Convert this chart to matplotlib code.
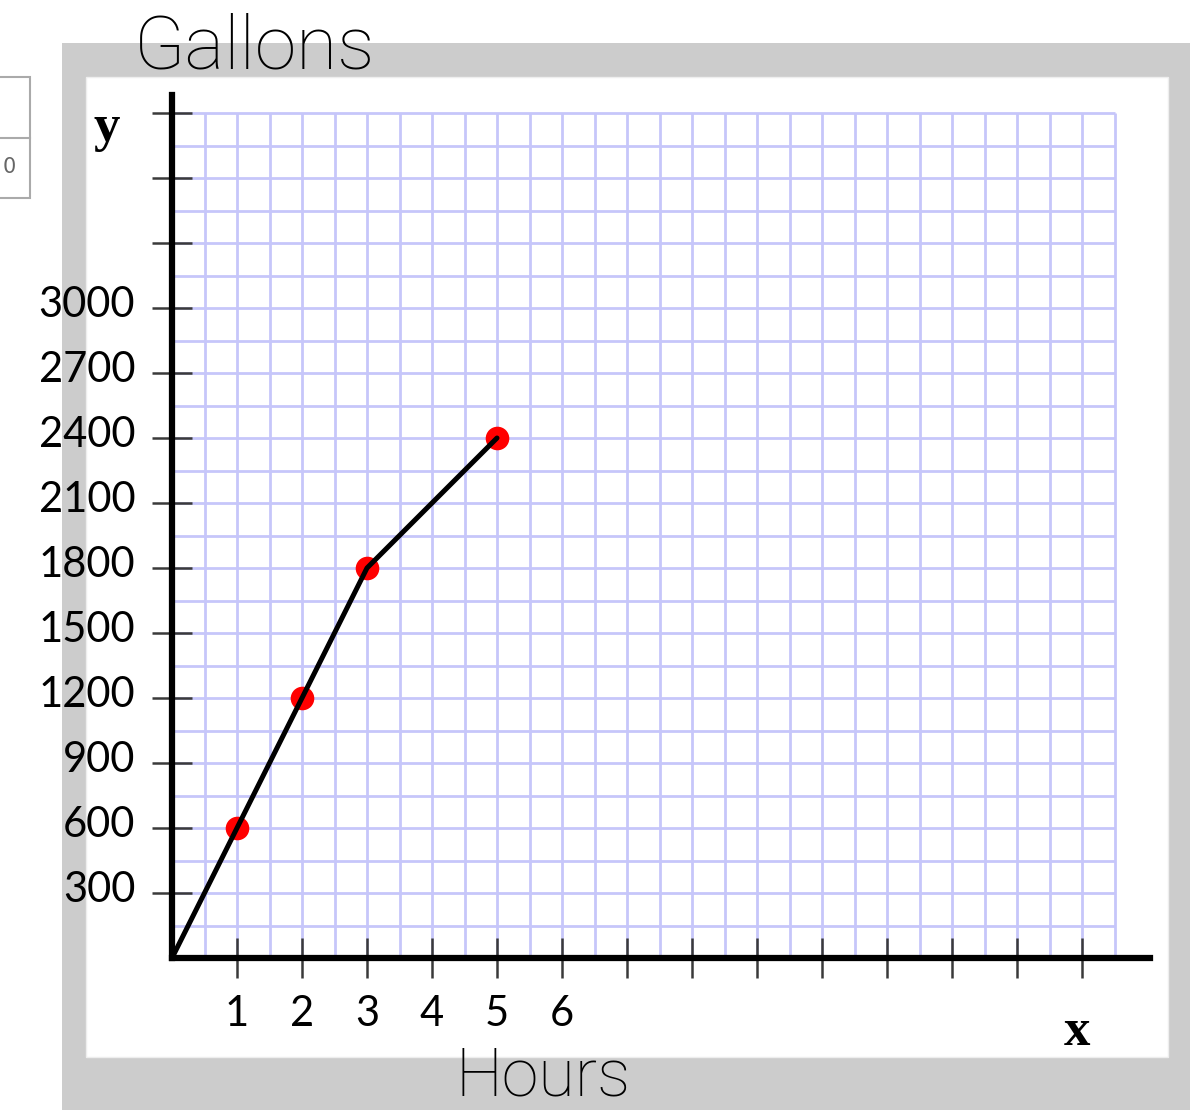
import matplotlib
matplotlib.use("Agg")
import numpy as np
from matplotlib import pyplot as plt
from matplotlib.patches import Rectangle
from matplotlib.transforms import ScaledTranslation

# data
hours = [0, 1, 2, 3, 5]
gallons = [0, 600, 1200, 1800, 2400]
dot_hours = [1, 2, 3, 5]
dot_gallons = [600, 1200, 1800, 2400]

y_ticks = list(range(300, 4200, 300))
y_labels = [str(v) if v <= 3000 else "" for v in y_ticks]
x_ticks = list(range(1, 15))
x_labels = [str(v) if v <= 6 else "" for v in x_ticks]

W, H = 1197, 1118
hand = dict(family=["Lato", "DejaVu Sans"], weight="normal", color="black")
hand_big = dict(family=["Roboto", "DejaVu Sans"], weight="light", color="black")


def fx(px):
    return px / W


def fy(py):
    return 1 - py / H


fig = plt.figure(figsize=(W / 100, H / 100), dpi=100)
fig.patch.set_facecolor("white")

# paper frame
fig.patches.append(Rectangle((fx(62), fy(1110)), fx(1190) - fx(62), fy(43) - fy(1110),
                             transform=fig.transFigure, facecolor="#cccccc",
                             edgecolor="none", zorder=-3))
fig.patches.append(Rectangle((fx(86), fy(1057)), fx(1168) - fx(86), fy(77) - fy(1057),
                             transform=fig.transFigure, facecolor="white",
                             edgecolor="#eeeeee", lw=1, zorder=-2))
# bit of a table peeking in at the left
fig.patches.append(Rectangle((fx(-3), fy(198)), fx(30) - fx(-3), fy(77) - fy(198),
                             transform=fig.transFigure, facecolor="white",
                             edgecolor="#aaaaaa", lw=1.5, zorder=-2))
fig.lines.append(plt.Line2D([fx(0), fx(30)], [fy(138), fy(138)],
                            transform=fig.transFigure, color="#aaaaaa", lw=1.5))
fig.text(fx(9), fy(167), "0", fontsize=15, color="#666666", ha="center", va="center")

ax = fig.add_axes([fx(172), fy(958), fx(1150) - fx(172), fy(95) - fy(958)])
ax.set_facecolor("none")
ax.set_xlim(0, (1150 - 172) / 65)
ax.set_ylim(0, (958 - 95) / 65 * 300)

# graph paper
grid_c = "#c6c6fa"
ax.vlines(np.arange(0.5, 14.51, 0.5), 0, 3900, color=grid_c, lw=2, zorder=1)
ax.hlines(np.arange(150, 3901, 150), 0, 14.5, color=grid_c, lw=2, zorder=1)

for side in ["top", "right"]:
    ax.spines[side].set_visible(False)
for side in ["left", "bottom"]:
    ax.spines[side].set_linewidth(4.5)
    ax.spines[side].set_color("black")
    ax.spines[side].set_capstyle("projecting")
    ax.spines[side].set_zorder(4)

ax.set_yticks(y_ticks)
ax.set_yticklabels(y_labels, fontdict=dict(fontsize=30, **hand))
ax.set_xticks(x_ticks)
ax.set_xticklabels(x_labels, fontdict=dict(fontsize=30, **hand))
ax.tick_params(direction="inout", length=29, width=1.8, color="#3a3a3a", pad=12)

up = ScaledTranslation(0, 5 / 72, fig.dpi_scale_trans)
for lab in ax.get_yticklabels():
    lab.set_transform(lab.get_transform() + up)

ax.plot(dot_hours, dot_gallons, "o", color="red", ms=17, mec="none", zorder=5, clip_on=False)
ax.plot(hours, gallons, color="black", lw=3.6, solid_capstyle="round", zorder=6, clip_on=False)

# hand written titles and axis letters
fig.text(fx(255), fy(48), "Gallons", fontsize=54, ha="center", va="center", **hand_big)
fig.text(fx(543), fy(1077), "Hours", fontsize=48, ha="center", va="center", **hand_big)
fig.text(fx(107), fy(128), "y", fontsize=38, ha="center", va="center",
         family="Liberation Serif", weight="bold")
fig.text(fx(1077), fy(1032), "x", fontsize=38, ha="center", va="center",
         family="Liberation Serif", weight="bold")

fig.savefig("out.png", dpi=100)
